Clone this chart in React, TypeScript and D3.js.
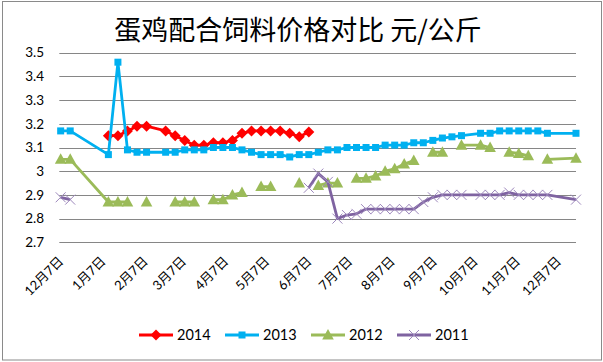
import React from 'react';
import * as d3 from 'd3';

const title = '蛋鸡配合饲料价格对比 元/公斤';

// weekly observation dates (reference year Dec 2012 – Dec 2013)
const dates = [
  '2012-12-08', '2012-12-15', '2013-01-12', '2013-01-19', '2013-01-26', '2013-02-02', '2013-02-09', '2013-02-23',
  '2013-03-02', '2013-03-09', '2013-03-16', '2013-03-23', '2013-03-30', '2013-04-06', '2013-04-13', '2013-04-20',
  '2013-04-27', '2013-05-04', '2013-05-11', '2013-05-18', '2013-05-25', '2013-06-01', '2013-06-08', '2013-06-15',
  '2013-06-22', '2013-06-29', '2013-07-06', '2013-07-13', '2013-07-20', '2013-07-27', '2013-08-03', '2013-08-10',
  '2013-08-17', '2013-08-24', '2013-08-31', '2013-09-07', '2013-09-14', '2013-09-21', '2013-09-28', '2013-10-12',
  '2013-10-19', '2013-10-26', '2013-11-02', '2013-11-09', '2013-11-16', '2013-11-23', '2013-11-30', '2013-12-21',
];

const axisStartDate = '2012-12-07';
const tickDates = [
  '2012-12-07', '2013-01-07', '2013-02-07', '2013-03-07', '2013-04-07', '2013-05-07', '2013-06-07',
  '2013-07-07', '2013-08-07', '2013-09-07', '2013-10-07', '2013-11-07', '2013-12-07',
];
const tickLabels = ['12月7日', '1月7日', '2月7日', '3月7日', '4月7日', '5月7日', '6月7日', '7月7日', '8月7日', '9月7日', '10月7日', '11月7日', '12月7日'];

const yTicks = [2.7, 2.8, 2.9, 3.0, 3.1, 3.2, 3.3, 3.4, 3.5];
const yTickLabels = ['2.7', '2.8', '2.9', '3', '3.1', '3.2', '3.3', '3.4', '3.5'];

const values2014: (number | null)[] = [
  null, null, 3.15, 3.15, 3.17, 3.19, 3.19, 3.17,
  3.15, 3.13, 3.11, 3.11, 3.12, 3.12, 3.13, 3.16,
  3.17, 3.17, 3.17, 3.17, 3.16, 3.145, 3.165, null,
  null, null, null, null, null, null, null, null,
  null, null, null, null, null, null, null, null,
  null, null, null, null, null, null, null, null,
];
const values2013: (number | null)[] = [
  3.17, 3.17, 3.07, 3.46, 3.09, 3.08, 3.08, 3.08,
  3.08, 3.09, 3.09, 3.09, 3.10, 3.10, 3.10, 3.09,
  3.08, 3.07, 3.07, 3.07, 3.06, 3.07, 3.07, 3.08,
  3.09, 3.09, 3.10, 3.10, 3.10, 3.10, 3.11, 3.11,
  3.11, 3.12, 3.12, 3.13, 3.14, 3.145, 3.15, 3.16,
  3.16, 3.17, 3.17, 3.17, 3.17, 3.17, 3.16, 3.16,
];
const values2012: (number | null)[] = [
  3.05, 3.05, 2.87, 2.87, 2.87, null, 2.87, null,
  2.87, 2.87, 2.87, null, 2.88, 2.88, 2.90, 2.91,
  null, 2.935, 2.935, null, null, 2.95, null, 2.94,
  2.95, 2.95, null, 2.97, 2.97, 2.98, 3.00, 3.01,
  3.03, 3.045, null, 3.08, 3.08, null, 3.11, 3.11,
  3.10, null, 3.08, 3.075, 3.065, null, 3.05, 3.055,
];
const values2011: (number | null)[] = [
  2.89, 2.88, null, null, null, null, null, null,
  null, null, null, null, null, null, null, null,
  null, null, null, null, null, null, 2.93, 2.99,
  2.955, 2.80, 2.815, 2.82, 2.84, 2.84, 2.84, 2.84,
  2.84, 2.84, 2.87, 2.89, 2.90, 2.90, 2.90, 2.90,
  2.90, 2.90, 2.91, 2.90, 2.90, 2.90, 2.90, 2.88,
];

const seriesNames = ['2014', '2013', '2012', '2011'];
const seriesValues = [values2014, values2013, values2012, values2011];
const seriesColors = ['#FF0000', '#00B0F0', '#9BBB59', '#7F63A1'];
const seriesMarkers = ['diamond', 'square', 'triangle', 'cross'];

const W = 603;
const H = 362;
const parse = d3.timeParse('%Y-%m-%d');
const FONT = "Lato, 'Noto Sans CJK SC', sans-serif";

function Marker({ kind, x, y, color }: { kind: string; x: number; y: number; color: string }) {
  if (kind === 'diamond') {
    return <path d={`M${x},${y - 5.5}L${x + 5.5},${y}L${x},${y + 5.5}L${x - 5.5},${y}Z`} fill={color} />;
  }
  if (kind === 'square') {
    return <rect x={x - 3.5} y={y - 3.5} width={7} height={7} fill={color} />;
  }
  if (kind === 'triangle') {
    return <path d={`M${x},${y - 6}L${x + 5.8},${y + 4.5}L${x - 5.8},${y + 4.5}Z`} fill={color} />;
  }
  return (
    <path
      d={`M${x - 5},${y - 5}L${x + 5},${y + 5}M${x - 5},${y + 5}L${x + 5},${y - 5}`}
      stroke="#9D88BC"
      strokeWidth={1}
      fill="none"
    />
  );
}

export default function App() {
  const parsedDates = dates.map((d) => parse(d) as Date);
  const x = d3
    .scaleTime()
    .domain([parse(axisStartDate) as Date, parsedDates[parsedDates.length - 1]])
    .range([59.3, 576]);
  const y = d3.scaleLinear().domain([2.7, 3.5]).range([242.3, 52.7]);

  const line = d3
    .line<{ d: Date; v: number | null }>()
    .defined((p) => p.v !== null)
    .x((p) => x(p.d))
    .y((p) => y(p.v as number));

  const legendX0 = 139;
  const legendStep = 86;
  const legendY = 335;

  return (
    <svg
      width={W}
      height={H}
      style={{ position: 'absolute', left: 0, top: 0, background: '#fff' }}
      fontFamily={FONT}
    >
      <rect x={0} y={0} width={W} height={H} fill="#fff" />
      <rect x={2.5} y={1.5} width={599} height={358.5} fill="#fff" stroke="#8A8A8A" strokeWidth={1} />

      <text x={298} y={40} textAnchor="middle" fontSize={27} fontFamily="'Noto Sans CJK SC', sans-serif" fill="#000">
        {title}
      </text>

      {yTicks.map((t, i) => (
        <g key={t}>
          <line x1={59.3} x2={576} y1={Math.round(y(t)) + 0.5} y2={Math.round(y(t)) + 0.5} stroke="#868686" strokeWidth={1} />
          <text x={44} y={y(t)} dy="0.35em" textAnchor="end" fontSize={13.5} fill="#000">
            {yTickLabels[i]}
          </text>
        </g>
      ))}

      {tickDates.map((td, i) => {
        const tx = x(parse(td) as Date);
        return (
          <text
            key={td + i}
            transform={`translate(${tx + 5},${262}) rotate(-45)`}
            textAnchor="end"
            fontSize={13}
            fill="#000"
          >
            {tickLabels[i]}
          </text>
        );
      })}

      {seriesValues.map((vals, si) => {
        const pts = vals.map((v, i) => ({ d: parsedDates[i], v }));
        return (
          <g key={seriesNames[si]}>
            <path d={line(pts) || ''} fill="none" stroke={seriesColors[si]} strokeWidth={2.8} strokeLinejoin="round" />
            {pts
              .filter((p) => p.v !== null)
              .map((p, i) => (
                <Marker key={i} kind={seriesMarkers[si]} x={x(p.d)} y={y(p.v as number)} color={seriesColors[si]} />
              ))}
          </g>
        );
      })}

      {seriesNames.map((name, i) => {
        const lx = legendX0 + i * legendStep;
        return (
          <g key={name}>
            <line x1={lx} x2={lx + 34} y1={legendY} y2={legendY} stroke={seriesColors[i]} strokeWidth={2.8} />
            <Marker kind={seriesMarkers[i]} x={lx + 17} y={legendY} color={seriesColors[i]} />
            <text x={lx + 38} y={legendY} dy="0.35em" fontSize={14.5} fill="#000">
              {name}
            </text>
          </g>
        );
      })}
    </svg>
  );
}
